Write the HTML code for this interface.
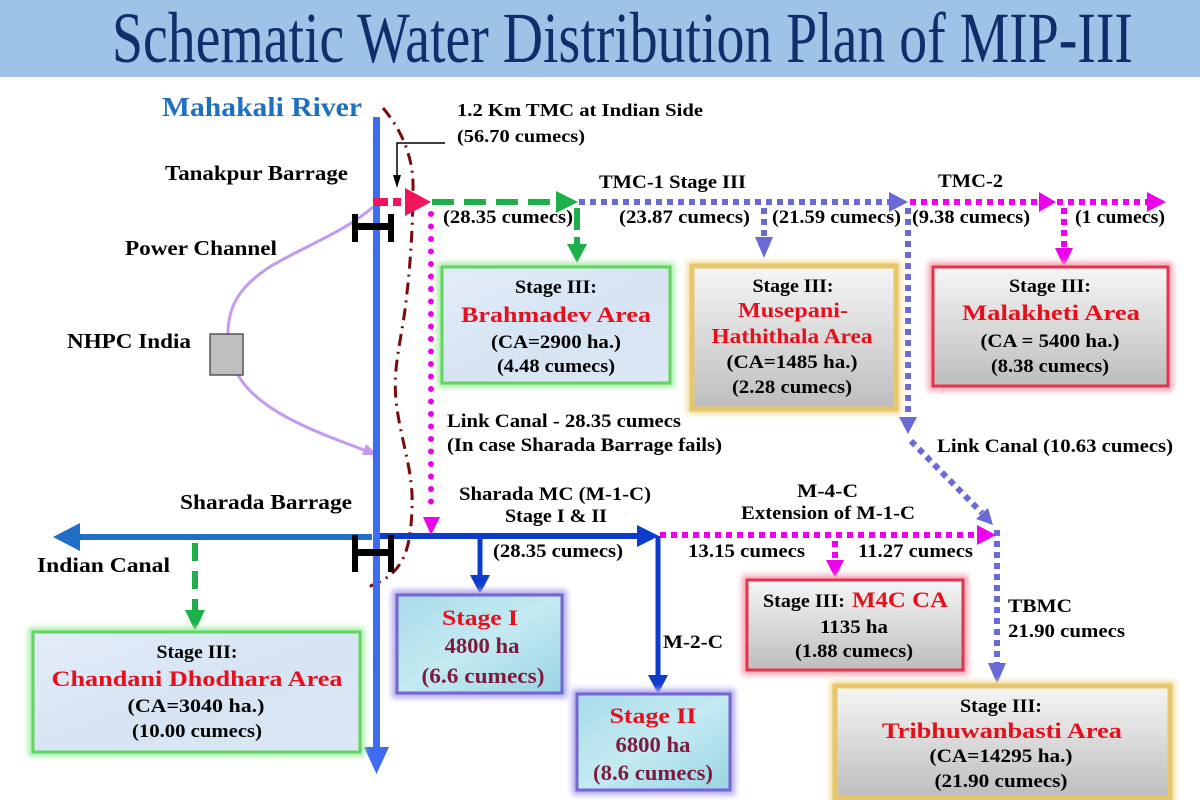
<!DOCTYPE html>
<html><head><meta charset="utf-8"><style>
html,body{margin:0;padding:0;background:#fff;}
svg{display:block;}
text{font-family:"Liberation Serif",serif;font-weight:bold;}
</style></head><body>
<svg width="1200" height="800" viewBox="0 0 1200 800" xmlns="http://www.w3.org/2000/svg">
<defs>
<filter id="bl" x="-20%" y="-20%" width="140%" height="140%"><feGaussianBlur stdDeviation="3"/></filter>
<linearGradient id="gBlue" x1="0" y1="0" x2="1" y2="1"><stop offset="0" stop-color="#e3edf8"/><stop offset="0.5" stop-color="#d6e4f3"/><stop offset="1" stop-color="#dbe7f4"/></linearGradient>
<linearGradient id="gGray" x1="0" y1="0" x2="0" y2="1"><stop offset="0" stop-color="#f6f6f6"/><stop offset="1" stop-color="#bdbdbd"/></linearGradient>
<linearGradient id="gCyan" x1="0" y1="0" x2="1" y2="1"><stop offset="0" stop-color="#a9dbe8"/><stop offset="0.5" stop-color="#c4eaf2"/><stop offset="1" stop-color="#98d4e3"/></linearGradient>
</defs>
<rect width="1200" height="800" fill="#fff"/>
<rect x="0" y="0" width="1200" height="77" fill="#9dc3e6"/>
<text x="112" y="62" font-size="72" textLength="1021" lengthAdjust="spacingAndGlyphs" fill="#112e6c" style="font-weight:normal">Schematic Water Distribution Plan of MIP-III</text>

<!-- dash-dot boundary -->
<path d="M383,108 C400,128 413,155 413,185 C413,230 410,270 405,310 C400,345 393,370 396,400 C400,440 414,470 412,510 C410,550 405,575 365,588" fill="none" stroke="#7a0a0a" stroke-width="3" stroke-dasharray="12 6 2 6"/>

<!-- power channel -->
<path d="M373,207 C345,232 300,248 268,268 C238,288 228,308 228,334" fill="none" stroke="#c49af0" stroke-width="3"/>
<path d="M238,375 C258,410 310,430 364,450" fill="none" stroke="#c49af0" stroke-width="3"/>
<polygon points="362,455 366,444 378,455" fill="#c49af0"/>
<rect x="210" y="334" width="33" height="41" fill="#bfbfbf" stroke="#555" stroke-width="1.5"/>

<!-- Indian canal / Sharada MC -->
<path d="M372,537 H78" stroke="#1f6fc6" stroke-width="6"/>
<polygon points="80,523 80,551 53,537" fill="#1f6fc6"/>
<path d="M380,536 H640" stroke="#0d3ccc" stroke-width="6"/>
<polygon points="637,525 637,547 659,536" fill="#0d3ccc"/>
<path d="M480,539 V576" stroke="#0d3ccc" stroke-width="5"/>
<polygon points="470,575 490,575 480,594" fill="#0d3ccc"/>
<path d="M658,536 V676" stroke="#0d3ccc" stroke-width="5"/>
<polygon points="648,675 668,675 658,694" fill="#0d3ccc"/>

<!-- river -->
<path d="M376.5,117 V750" stroke="#3d6cf0" stroke-width="7"/>
<polygon points="364,747 389,747 376.5,774" fill="#3d6cf0"/>

<!-- barrages -->
<rect x="352" y="214" width="6" height="28" fill="#000"/>
<rect x="388" y="214" width="6" height="28" fill="#000"/>
<rect x="352" y="223" width="42" height="7" fill="#000"/>
<rect x="352" y="535" width="6" height="37" fill="#000"/>
<rect x="388" y="535" width="6" height="37" fill="#000"/>
<rect x="352" y="549" width="42" height="7" fill="#000"/>

<!-- callout -->
<path d="M445,143 H397 V176" fill="none" stroke="#000" stroke-width="1.5"/>
<polygon points="393,175 401,175 397,188" fill="#000"/>

<!-- red start -->
<path d="M373,202 H388 M393,202 H401" stroke="#f0145a" stroke-width="8"/>
<polygon points="405,188 405,216 431,202" fill="#f0145a"/>

<!-- green -->
<path d="M432,202 H556" stroke="#1bb04a" stroke-width="6" stroke-dasharray="22 10"/>
<polygon points="556,191 556,213 578,202" fill="#1bb04a"/>
<path d="M577,208 V245" stroke="#1bb04a" stroke-width="6" stroke-dasharray="22 7"/>
<polygon points="567,244 587,244 577,263" fill="#1bb04a"/>
<path d="M195,543 V611" stroke="#1bb04a" stroke-width="6" stroke-dasharray="18 10"/>
<polygon points="185,610 205,610 195,631" fill="#1bb04a"/>

<!-- periwinkle dotted -->
<g stroke="#6a6ad6" stroke-width="6" stroke-dasharray="6 5" fill="none">
<path d="M579,202 H890"/>
<path d="M764,208 V238"/>
<path d="M908,208 V418"/>
<path d="M911,441 L982,513"/>
<path d="M997,530 V664"/>
</g>
<g fill="#6a6ad6">
<polygon points="889,192 889,212 908,202"/>
<polygon points="755,237 773,237 764,258"/>
<polygon points="899,417 917,417 908,434"/>
<polygon points="976,519 988,508 993,525"/>
<polygon points="988,663 1006,663 997,684"/>
</g>

<!-- magenta dotted -->
<g stroke="#ee00ee" stroke-width="6" stroke-dasharray="6 5" fill="none">
<path d="M910,202 H1040"/>
<path d="M1057,202 H1148"/>
<path d="M1064,208 V249"/>
<path d="M660,535 H978"/>
<path d="M835,541 V561"/>
</g>
<path d="M431,214 V514" stroke="#ee00ee" stroke-width="6" stroke-dasharray="0 12.5" stroke-linecap="round" fill="none"/>
<g fill="#ee00ee">
<polygon points="1039,192 1039,212 1056,202"/>
<polygon points="1147,192 1147,212 1166,202"/>
<polygon points="1055,248 1073,248 1064,267"/>
<polygon points="977,525 977,545 996,535"/>
<polygon points="826,560 844,560 835,578"/>
<polygon points="423,517 440,517 431,535"/>
</g>

<!-- boxes: green -->
<rect x="442" y="267" width="228" height="116" fill="none" stroke="#a6eea6" stroke-width="9" filter="url(#bl)"/>
<rect x="442" y="267" width="228" height="116" fill="url(#gBlue)" stroke="#62d462" stroke-width="3"/>
<rect x="33" y="632" width="327" height="120" fill="none" stroke="#a6eea6" stroke-width="9" filter="url(#bl)"/>
<rect x="33" y="632" width="327" height="120" fill="url(#gBlue)" stroke="#62d462" stroke-width="3"/>
<!-- gold -->
<rect x="692" y="266" width="204" height="143" fill="none" stroke="#f3dd9c" stroke-width="10" filter="url(#bl)"/>
<rect x="692" y="266" width="204" height="143" fill="url(#gGray)" stroke="#e8c66c" stroke-width="5"/>
<rect x="835" y="686" width="335" height="112" fill="none" stroke="#f3dd9c" stroke-width="10" filter="url(#bl)"/>
<rect x="835" y="686" width="335" height="112" fill="url(#gGray)" stroke="#e8c66c" stroke-width="5"/>
<!-- red -->
<rect x="933" y="267" width="235" height="119" fill="none" stroke="#f7a4b2" stroke-width="10" filter="url(#bl)"/>
<rect x="933" y="267" width="235" height="119" fill="url(#gGray)" stroke="#e2354d" stroke-width="3"/>
<rect x="747" y="580" width="216" height="90" fill="none" stroke="#f7a4b2" stroke-width="10" filter="url(#bl)"/>
<rect x="747" y="580" width="216" height="90" fill="url(#gGray)" stroke="#e2354d" stroke-width="3"/>
<!-- purple -->
<rect x="397" y="595" width="165" height="98" fill="none" stroke="#b3a8ec" stroke-width="10" filter="url(#bl)"/>
<rect x="397" y="595" width="165" height="98" fill="url(#gCyan)" stroke="#7466cf" stroke-width="3"/>
<rect x="577" y="694" width="153" height="96" fill="none" stroke="#b3a8ec" stroke-width="10" filter="url(#bl)"/>
<rect x="577" y="694" width="153" height="96" fill="url(#gCyan)" stroke="#7466cf" stroke-width="3"/>

<!-- labels -->
<g fill="#000" font-size="19">
<text x="162" y="116" font-size="27" fill="#1f70c2" textLength="200" lengthAdjust="spacingAndGlyphs">Mahakali River</text>
<text x="165" y="180" font-size="21" textLength="183" lengthAdjust="spacingAndGlyphs">Tanakpur Barrage</text>
<text x="125" y="255" font-size="21" textLength="152" lengthAdjust="spacingAndGlyphs">Power Channel</text>
<text x="67" y="348" font-size="21" textLength="124" lengthAdjust="spacingAndGlyphs">NHPC India</text>
<text x="180" y="509" font-size="21" textLength="172" lengthAdjust="spacingAndGlyphs">Sharada Barrage</text>
<text x="37" y="572" font-size="21" textLength="133" lengthAdjust="spacingAndGlyphs">Indian Canal</text>

<text x="457" y="116" font-size="18" textLength="246" lengthAdjust="spacingAndGlyphs">1.2 Km TMC at Indian Side</text>
<text x="457" y="142" font-size="18" textLength="128" lengthAdjust="spacingAndGlyphs">(56.70 cumecs)</text>
<text x="443" y="223" textLength="130" lengthAdjust="spacingAndGlyphs">(28.35 cumecs)</text>
<text x="599" y="188" textLength="147" lengthAdjust="spacingAndGlyphs">TMC-1 Stage III</text>
<text x="619" y="223" textLength="131" lengthAdjust="spacingAndGlyphs">(23.87 cumecs)</text>
<text x="772" y="223" textLength="129" lengthAdjust="spacingAndGlyphs">(21.59 cumecs)</text>
<text x="938" y="187" textLength="65" lengthAdjust="spacingAndGlyphs">TMC-2</text>
<text x="912" y="223" textLength="118" lengthAdjust="spacingAndGlyphs">(9.38 cumecs)</text>
<text x="1075" y="223" textLength="90" lengthAdjust="spacingAndGlyphs">(1 cumecs)</text>

<text x="447" y="427" textLength="234" lengthAdjust="spacingAndGlyphs">Link Canal - 28.35 cumecs</text>
<text x="447" y="451" textLength="275" lengthAdjust="spacingAndGlyphs">(In case Sharada Barrage fails)</text>
<text x="937" y="452" textLength="236" lengthAdjust="spacingAndGlyphs">Link Canal (10.63 cumecs)</text>
<text x="459" y="500" textLength="192" lengthAdjust="spacingAndGlyphs">Sharada MC (M-1-C)</text>
<text x="505" y="522" textLength="102" lengthAdjust="spacingAndGlyphs">Stage I &amp; II</text>
<text x="493" y="557" textLength="130" lengthAdjust="spacingAndGlyphs">(28.35 cumecs)</text>
<text x="797" y="497" textLength="61" lengthAdjust="spacingAndGlyphs">M-4-C</text>
<text x="741" y="519" textLength="174" lengthAdjust="spacingAndGlyphs">Extension of M-1-C</text>
<text x="688" y="557" textLength="117" lengthAdjust="spacingAndGlyphs">13.15 cumecs</text>
<text x="858" y="557" textLength="115" lengthAdjust="spacingAndGlyphs">11.27 cumecs</text>
<text x="663" y="648" textLength="60" lengthAdjust="spacingAndGlyphs">M-2-C</text>
<text x="1008" y="612" textLength="64" lengthAdjust="spacingAndGlyphs">TBMC</text>
<text x="1008" y="637" textLength="117" lengthAdjust="spacingAndGlyphs">21.90 cumecs</text>
</g>

<!-- box texts -->
<g fill="#000" font-size="19" text-anchor="middle">
<!-- Brahmadev -->
<text x="556" y="293" textLength="82" lengthAdjust="spacingAndGlyphs">Stage III:</text>
<text x="556" y="322" font-size="22" fill="#e5101c" textLength="190" lengthAdjust="spacingAndGlyphs">Brahmadev Area</text>
<text x="556" y="348" textLength="130" lengthAdjust="spacingAndGlyphs">(CA=2900 ha.)</text>
<text x="556" y="372" textLength="118" lengthAdjust="spacingAndGlyphs">(4.48 cumecs)</text>
<!-- Musepani -->
<text x="793" y="292" textLength="81" lengthAdjust="spacingAndGlyphs">Stage III:</text>
<text x="793" y="317" font-size="21" fill="#e5101c" textLength="110" lengthAdjust="spacingAndGlyphs">Musepani-</text>
<text x="792" y="343" font-size="21" fill="#e5101c" textLength="161" lengthAdjust="spacingAndGlyphs">Hathithala Area</text>
<text x="792" y="368" textLength="131" lengthAdjust="spacingAndGlyphs">(CA=1485 ha.)</text>
<text x="792" y="393" textLength="120" lengthAdjust="spacingAndGlyphs">(2.28 cumecs)</text>
<!-- Malakheti -->
<text x="1050" y="292" textLength="82" lengthAdjust="spacingAndGlyphs">Stage III:</text>
<text x="1051" y="320" font-size="22" fill="#e5101c" textLength="178" lengthAdjust="spacingAndGlyphs">Malakheti Area</text>
<text x="1050" y="347" textLength="139" lengthAdjust="spacingAndGlyphs">(CA = 5400 ha.)</text>
<text x="1050" y="372" textLength="118" lengthAdjust="spacingAndGlyphs">(8.38 cumecs)</text>
<!-- Chandani -->
<text x="197" y="658" textLength="81" lengthAdjust="spacingAndGlyphs">Stage III:</text>
<text x="197" y="686" font-size="22" fill="#e5101c" textLength="291" lengthAdjust="spacingAndGlyphs">Chandani Dhodhara Area</text>
<text x="196" y="712" textLength="137" lengthAdjust="spacingAndGlyphs">(CA=3040 ha.)</text>
<text x="197" y="737" textLength="130" lengthAdjust="spacingAndGlyphs">(10.00 cumecs)</text>
<!-- Stage I -->
<text x="480" y="625" font-size="22" fill="#e5101c" textLength="76" lengthAdjust="spacingAndGlyphs">Stage I</text>
<text x="482" y="653" font-size="22" fill="#7b1c3c" textLength="75" lengthAdjust="spacingAndGlyphs">4800 ha</text>
<text x="483" y="683" font-size="22" fill="#7b1c3c" textLength="123" lengthAdjust="spacingAndGlyphs">(6.6 cumecs)</text>
<!-- Stage II -->
<text x="653" y="723" font-size="22" fill="#e5101c" textLength="87" lengthAdjust="spacingAndGlyphs">Stage II</text>
<text x="653" y="752" font-size="22" fill="#7b1c3c" textLength="75" lengthAdjust="spacingAndGlyphs">6800 ha</text>
<text x="653" y="780" font-size="22" fill="#7b1c3c" textLength="120" lengthAdjust="spacingAndGlyphs">(8.6 cumecs)</text>
<!-- M4C -->
<text x="854" y="633" textLength="68" lengthAdjust="spacingAndGlyphs">1135 ha</text>
<text x="854" y="657" textLength="118" lengthAdjust="spacingAndGlyphs">(1.88 cumecs)</text>
<!-- Tribhuwanbasti -->
<text x="1001" y="712" textLength="82" lengthAdjust="spacingAndGlyphs">Stage III:</text>
<text x="1002" y="738" font-size="22" fill="#e5101c" textLength="240" lengthAdjust="spacingAndGlyphs">Tribhuwanbasti Area</text>
<text x="1001" y="762" textLength="143" lengthAdjust="spacingAndGlyphs">(CA=14295 ha.)</text>
<text x="1001" y="787" textLength="133" lengthAdjust="spacingAndGlyphs">(21.90 cumecs)</text>
</g>
<text x="763" y="607" font-size="19" fill="#000" textLength="82" lengthAdjust="spacingAndGlyphs">Stage III:</text>
<text x="852" y="607" font-size="22" fill="#e5101c" textLength="96" lengthAdjust="spacingAndGlyphs">M4C CA</text>
</svg>
</body></html>
